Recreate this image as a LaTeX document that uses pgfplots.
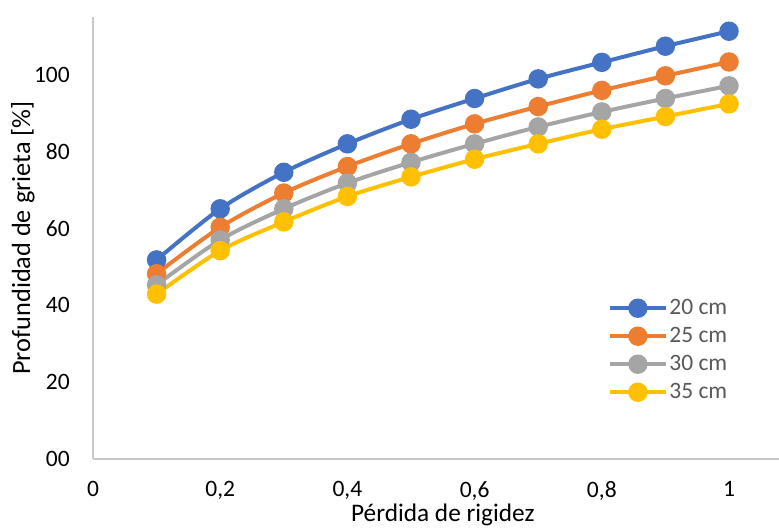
\documentclass[border=0pt]{standalone}
\usepackage{pgfplots}
\pgfplotsset{compat=1.18}
\usepackage{fontspec}
\setmainfont{Carlito}
\definecolor{c1}{HTML}{4472C4}
\definecolor{c2}{HTML}{ED7D31}
\definecolor{c3}{HTML}{A5A5A5}
\definecolor{c4}{HTML}{FFC000}
\definecolor{axc}{HTML}{C8C8C8}
\definecolor{legtext}{HTML}{595959}
\begin{document}
\begin{tikzpicture}
\begin{axis}[
  scale only axis,
  width=686pt, height=442pt,
  xmin=0, xmax=1.0786,
  ymin=0, ymax=115,
  axis x line=bottom, axis y line=left,
  axis line style={draw=axc, line width=1.3pt, -},
  major tick length=0pt,
  xtick={0,0.2,0.4,0.6,0.8,1},
  xticklabels={0,{0,2},{0,4},{0,6},{0,8},1},
  ytick={0,20,40,60,80,100},
  yticklabels={00,20,40,60,80,100},
  /pgf/number format/assume math mode=true,
  tick label style={font=\fontsize{23.5}{28}\selectfont, text=black},
  yticklabel style={anchor=east, inner sep=0pt, xshift=-23pt},
  xticklabel style={anchor=north, inner sep=0pt, yshift=-22pt, text depth=0pt},
  xlabel={Pérdida de rigidez},
  ylabel={Profundidad de grieta [\%]},
  every axis x label/.style={at={(axis description cs:0.51,-0.1425)}, anchor=base, font=\fontsize{25.3}{30}\selectfont},
  every axis y label/.style={at={(axis description cs:-0.0918,0.5)}, anchor=base, rotate=90, font=\fontsize{26.3}{31}\selectfont},
  clip=false,
  every axis plot/.append style={line width=4pt, smooth, tension=0.5, mark=*, mark size=7.7pt, mark options={solid, line width=0pt}},
  legend image code/.code={\draw[mark repeat=2, mark phase=2] plot coordinates {(0pt,0pt) (27.5pt,0pt) (55pt,0pt)};},
  legend style={draw=none, fill=none, at={(axis description cs:0.751,0.371)}, anchor=north west, inner sep=0pt,
    font=\fontsize{23.5}{28}\selectfont, text=legtext,
    nodes={text height=17pt, text depth=5pt, inner sep=2pt}, row sep=2pt},
  legend cell align=left,
]
\addplot[color=c1, mark options={fill=c1, draw=c1}] coordinates {
(0.1,51.8) (0.2,65.1) (0.3,74.6) (0.4,82.0) (0.5,88.4) (0.6,93.8) (0.7,98.9) (0.8,103.2) (0.9,107.4) (1.0,111.3)};
\addlegendentry{20 cm}
\addplot[color=c2, mark options={fill=c2, draw=c2}] coordinates {
(0.1,48.2) (0.2,60.3) (0.3,69.2) (0.4,76.1) (0.5,82.0) (0.6,87.2) (0.7,91.7) (0.8,95.9) (0.9,99.7) (1.0,103.3)};
\addlegendentry{25 cm}
\addplot[color=c3, mark options={fill=c3, draw=c3}] coordinates {
(0.1,45.3) (0.2,57.0) (0.3,65.1) (0.4,71.8) (0.5,77.2) (0.6,82.0) (0.7,86.4) (0.8,90.3) (0.9,93.8) (1.0,97.1)};
\addlegendentry{30 cm}
\addplot[color=c4, mark options={fill=c4, draw=c4}] coordinates {
(0.1,42.9) (0.2,54.2) (0.3,61.7) (0.4,68.3) (0.5,73.4) (0.6,78.0) (0.7,82.0) (0.8,85.8) (0.9,89.1) (1.0,92.4)};
\addlegendentry{35 cm}
\end{axis}
\pgfresetboundingbox
\path[use as bounding box] (-93pt,-69pt) rectangle (686pt,459pt);
\end{tikzpicture}
\end{document}
